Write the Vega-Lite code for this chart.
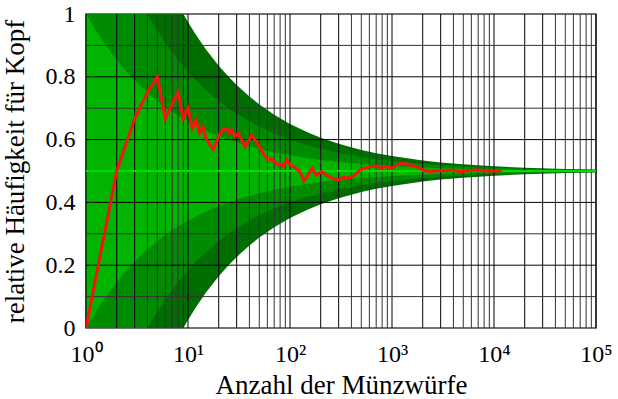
{
  "$schema": "https://vega.github.io/schema/vega-lite/v6.json",
  "width": 510,
  "height": 314,
  "autosize": {"type": "none"},
  "padding": {"left": 86, "top": 14, "right": 22, "bottom": 71},
  "background": "white",
  "config": {
    "view": {"stroke": "#444", "strokeWidth": 1.5},
    "font": "Liberation Serif",
    "axis": {"grid": false, "domain": false, "ticks": false, "labelFont": "Liberation Serif", "titleFont": "Liberation Serif", "labelColor": "#000", "titleColor": "#000", "labelFontSize": 24, "titleFontSize": 27, "titleFontWeight": "normal"}
  },
  "datasets": {
    "bands": [
      {"n": 1, "lo1": 0, "hi1": 1, "lo2": 0, "hi2": 1, "lo3": 0, "hi3": 1},
      {"n": 1.25, "lo1": 0.0528, "hi1": 0.9472, "lo2": 0, "hi2": 1, "lo3": 0, "hi3": 1},
      {"n": 1.5, "lo1": 0.0918, "hi1": 0.9082, "lo2": 0, "hi2": 1, "lo3": 0, "hi3": 1},
      {"n": 2, "lo1": 0.1464, "hi1": 0.8536, "lo2": 0, "hi2": 1, "lo3": 0, "hi3": 1},
      {"n": 2.5, "lo1": 0.1838, "hi1": 0.8162, "lo2": 0, "hi2": 1, "lo3": 0, "hi3": 1},
      {"n": 3, "lo1": 0.2113, "hi1": 0.7887, "lo2": 0, "hi2": 1, "lo3": 0, "hi3": 1},
      {"n": 3.5, "lo1": 0.2327, "hi1": 0.7673, "lo2": 0, "hi2": 1, "lo3": 0, "hi3": 1},
      {"n": 4, "lo1": 0.25, "hi1": 0.75, "lo2": 0, "hi2": 1, "lo3": 0, "hi3": 1},
      {"n": 5, "lo1": 0.2764, "hi1": 0.7236, "lo2": 0.0528, "hi2": 0.9472, "lo3": 0, "hi3": 1},
      {"n": 6, "lo1": 0.2959, "hi1": 0.7041, "lo2": 0.0918, "hi2": 0.9082, "lo3": 0, "hi3": 1},
      {"n": 7, "lo1": 0.311, "hi1": 0.689, "lo2": 0.122, "hi2": 0.878, "lo3": 0, "hi3": 1},
      {"n": 8, "lo1": 0.3232, "hi1": 0.6768, "lo2": 0.1464, "hi2": 0.8536, "lo3": 0, "hi3": 1},
      {"n": 9, "lo1": 0.3333, "hi1": 0.6667, "lo2": 0.1667, "hi2": 0.8333, "lo3": 0, "hi3": 1},
      {"n": 10, "lo1": 0.3419, "hi1": 0.6581, "lo2": 0.1838, "hi2": 0.8162, "lo3": 0.0257, "hi3": 0.9743},
      {"n": 12, "lo1": 0.3557, "hi1": 0.6443, "lo2": 0.2113, "hi2": 0.7887, "lo3": 0.067, "hi3": 0.933},
      {"n": 15, "lo1": 0.3709, "hi1": 0.6291, "lo2": 0.2418, "hi2": 0.7582, "lo3": 0.1127, "hi3": 0.8873},
      {"n": 20, "lo1": 0.3882, "hi1": 0.6118, "lo2": 0.2764, "hi2": 0.7236, "lo3": 0.1646, "hi3": 0.8354},
      {"n": 25, "lo1": 0.4, "hi1": 0.6, "lo2": 0.3, "hi2": 0.7, "lo3": 0.2, "hi3": 0.8},
      {"n": 30, "lo1": 0.4087, "hi1": 0.5913, "lo2": 0.3174, "hi2": 0.6826, "lo3": 0.2261, "hi3": 0.7739},
      {"n": 40, "lo1": 0.4209, "hi1": 0.5791, "lo2": 0.3419, "hi2": 0.6581, "lo3": 0.2628, "hi3": 0.7372},
      {"n": 50, "lo1": 0.4293, "hi1": 0.5707, "lo2": 0.3586, "hi2": 0.6414, "lo3": 0.2879, "hi3": 0.7121},
      {"n": 70, "lo1": 0.4402, "hi1": 0.5598, "lo2": 0.3805, "hi2": 0.6195, "lo3": 0.3207, "hi3": 0.6793},
      {"n": 100, "lo1": 0.45, "hi1": 0.55, "lo2": 0.4, "hi2": 0.6, "lo3": 0.35, "hi3": 0.65},
      {"n": 150, "lo1": 0.4592, "hi1": 0.5408, "lo2": 0.4184, "hi2": 0.5816, "lo3": 0.3775, "hi3": 0.6225},
      {"n": 200, "lo1": 0.4646, "hi1": 0.5354, "lo2": 0.4293, "hi2": 0.5707, "lo3": 0.3939, "hi3": 0.6061},
      {"n": 300, "lo1": 0.4711, "hi1": 0.5289, "lo2": 0.4423, "hi2": 0.5577, "lo3": 0.4134, "hi3": 0.5866},
      {"n": 500, "lo1": 0.4776, "hi1": 0.5224, "lo2": 0.4553, "hi2": 0.5447, "lo3": 0.4329, "hi3": 0.5671},
      {"n": 700, "lo1": 0.4811, "hi1": 0.5189, "lo2": 0.4622, "hi2": 0.5378, "lo3": 0.4433, "hi3": 0.5567},
      {"n": 1000, "lo1": 0.4842, "hi1": 0.5158, "lo2": 0.4684, "hi2": 0.5316, "lo3": 0.4526, "hi3": 0.5474},
      {"n": 2000, "lo1": 0.4888, "hi1": 0.5112, "lo2": 0.4776, "hi2": 0.5224, "lo3": 0.4665, "hi3": 0.5335},
      {"n": 3000, "lo1": 0.4909, "hi1": 0.5091, "lo2": 0.4817, "hi2": 0.5183, "lo3": 0.4726, "hi3": 0.5274},
      {"n": 5000, "lo1": 0.4929, "hi1": 0.5071, "lo2": 0.4859, "hi2": 0.5141, "lo3": 0.4788, "hi3": 0.5212},
      {"n": 10000, "lo1": 0.495, "hi1": 0.505, "lo2": 0.49, "hi2": 0.51, "lo3": 0.485, "hi3": 0.515},
      {"n": 20000, "lo1": 0.4965, "hi1": 0.5035, "lo2": 0.4929, "hi2": 0.5071, "lo3": 0.4894, "hi3": 0.5106},
      {"n": 50000, "lo1": 0.4978, "hi1": 0.5022, "lo2": 0.4955, "hi2": 0.5045, "lo3": 0.4933, "hi3": 0.5067},
      {"n": 100000, "lo1": 0.4984, "hi1": 0.5016, "lo2": 0.4968, "hi2": 0.5032, "lo3": 0.4953, "hi3": 0.5047}
    ],
    "vgridDark": [
      {"n": 1}, {"n": 2}, {"n": 3}, {"n": 10}, {"n": 20}, {"n": 30}, {"n": 100}, {"n": 200}, {"n": 300},
      {"n": 1000}, {"n": 2000}, {"n": 3000}, {"n": 10000}, {"n": 20000}, {"n": 30000}, {"n": 100000}
    ],
    "vgridLight": [
      {"n": 4}, {"n": 5}, {"n": 6}, {"n": 7}, {"n": 8}, {"n": 9},
      {"n": 40}, {"n": 50}, {"n": 60}, {"n": 70}, {"n": 80}, {"n": 90},
      {"n": 400}, {"n": 500}, {"n": 600}, {"n": 700}, {"n": 800}, {"n": 900},
      {"n": 4000}, {"n": 5000}, {"n": 6000}, {"n": 7000}, {"n": 8000}, {"n": 9000},
      {"n": 40000}, {"n": 50000}, {"n": 60000}, {"n": 70000}, {"n": 80000}, {"n": 90000}
    ],
    "hgridDark": [{"f": 0.2}, {"f": 0.4}, {"f": 0.6}, {"f": 0.8}],
    "hgridLight": [{"f": 0.1}, {"f": 0.3}, {"f": 0.5}, {"f": 0.7}, {"f": 0.9}],
    "walk": [
      {"n": 1, "f": 0}, {"n": 2, "f": 0.5}, {"n": 3, "f": 0.667}, {"n": 4, "f": 0.75}, {"n": 5, "f": 0.8},
      {"n": 6, "f": 0.667}, {"n": 7, "f": 0.714}, {"n": 8, "f": 0.75}, {"n": 9, "f": 0.667}, {"n": 10, "f": 0.7},
      {"n": 11, "f": 0.636}, {"n": 12, "f": 0.662}, {"n": 13, "f": 0.62}, {"n": 14, "f": 0.641}, {"n": 15, "f": 0.604},
      {"n": 16.5, "f": 0.583}, {"n": 17.7, "f": 0.569}, {"n": 19, "f": 0.593}, {"n": 20.6, "f": 0.62}, {"n": 22, "f": 0.631},
      {"n": 24, "f": 0.636}, {"n": 25.4, "f": 0.62}, {"n": 26.8, "f": 0.631}, {"n": 29, "f": 0.609}, {"n": 31, "f": 0.62},
      {"n": 34.4, "f": 0.593}, {"n": 36.3, "f": 0.577}, {"n": 39, "f": 0.593}, {"n": 42, "f": 0.615}, {"n": 45.4, "f": 0.599},
      {"n": 49, "f": 0.583}, {"n": 52.8, "f": 0.565}, {"n": 56, "f": 0.55}, {"n": 61, "f": 0.535}, {"n": 65, "f": 0.54},
      {"n": 68.5, "f": 0.532}, {"n": 73, "f": 0.524}, {"n": 77, "f": 0.519}, {"n": 81, "f": 0.522}, {"n": 86, "f": 0.514}, {"n": 93, "f": 0.535}, {"n": 100, "f": 0.519},
      {"n": 106, "f": 0.516}, {"n": 112, "f": 0.512}, {"n": 125, "f": 0.497}, {"n": 137, "f": 0.469}, {"n": 150, "f": 0.487}, {"n": 165, "f": 0.509},
      {"n": 180, "f": 0.487}, {"n": 204, "f": 0.498}, {"n": 228, "f": 0.487}, {"n": 256, "f": 0.477}, {"n": 298, "f": 0.471},
      {"n": 333, "f": 0.48}, {"n": 372, "f": 0.477}, {"n": 416, "f": 0.484}, {"n": 484, "f": 0.503}, {"n": 544, "f": 0.509},
      {"n": 609, "f": 0.514}, {"n": 708, "f": 0.516}, {"n": 762, "f": 0.509}, {"n": 855, "f": 0.514}, {"n": 995, "f": 0.509},
      {"n": 1150, "f": 0.522}, {"n": 1290, "f": 0.525}, {"n": 1500, "f": 0.519}, {"n": 1750, "f": 0.514}, {"n": 2010, "f": 0.503},
      {"n": 2360, "f": 0.498}, {"n": 2720, "f": 0.501}, {"n": 3430, "f": 0.501}, {"n": 3990, "f": 0.503}, {"n": 4660, "f": 0.498},
      {"n": 5380, "f": 0.501}, {"n": 6820, "f": 0.503}, {"n": 8460, "f": 0.5}, {"n": 9800, "f": 0.5}, {"n": 11800, "f": 0.501}
    ]
  },
  "layer": [
    {
      "data": {"name": "bands"},
      "mark": {"type": "area", "color": "#006e00", "opacity": 1},
      "encoding": {
        "x": {"field": "n", "type": "quantitative", "scale": {"type": "log", "domain": [1, 100000], "nice": false},
              "axis": {"values": [1, 10, 100, 1000, 10000, 100000], "labelExpr": "['10⁰','10¹','10²','10³','10⁴','10⁵'][round(log(datum.value)/LN10)]", "labelPadding": 14, "labelFlush": false, "labelOverlap": false, "title": "Anzahl der Münzwürfe", "titleY": 65, "titleBaseline": "alphabetic"}},
        "y": {"field": "lo3", "type": "quantitative", "scale": {"domain": [0, 1], "nice": false},
              "axis": {"values": [0, 0.2, 0.4, 0.6, 0.8, 1], "labelExpr": "datum.value == 0 ? '0' : datum.value == 1 ? '1' : format(datum.value, '.1f')", "labelPadding": 11, "labelFlush": false, "labelOverlap": false, "title": "relative Häufigkeit für Kopf", "titleX": -63, "titleY": 157, "titleBaseline": "alphabetic"}},
        "y2": {"field": "hi3"}
      }
    },
    {
      "data": {"name": "bands"},
      "mark": {"type": "area", "color": "#008c00", "opacity": 1},
      "encoding": {
        "x": {"field": "n", "type": "quantitative"},
        "y": {"field": "lo2", "type": "quantitative"},
        "y2": {"field": "hi2"}
      }
    },
    {
      "data": {"name": "bands"},
      "mark": {"type": "area", "color": "#00b400", "opacity": 1},
      "encoding": {
        "x": {"field": "n", "type": "quantitative"},
        "y": {"field": "lo1", "type": "quantitative"},
        "y2": {"field": "hi1"}
      }
    },
    {
      "data": {"name": "vgridLight"},
      "mark": {"type": "rule", "color": "#333", "strokeWidth": 1},
      "encoding": {"x": {"field": "n", "type": "quantitative"}}
    },
    {
      "data": {"name": "vgridDark"},
      "mark": {"type": "rule", "color": "#000", "strokeWidth": 1},
      "encoding": {"x": {"field": "n", "type": "quantitative"}}
    },
    {
      "data": {"name": "hgridLight"},
      "mark": {"type": "rule", "color": "#333", "strokeWidth": 1},
      "encoding": {"y": {"field": "f", "type": "quantitative"}}
    },
    {
      "data": {"name": "hgridDark"},
      "mark": {"type": "rule", "color": "#000", "strokeWidth": 1},
      "encoding": {"y": {"field": "f", "type": "quantitative"}}
    },
    {
      "data": {"values": [{"f": 0.5}]},
      "mark": {"type": "rule", "color": "#00dd00", "strokeWidth": 2},
      "encoding": {"y": {"field": "f", "type": "quantitative"}}
    },
    {
      "data": {"name": "walk"},
      "mark": {"type": "line", "color": "#ff1010", "strokeWidth": 3, "strokeJoin": "miter", "clip": true},
      "encoding": {
        "x": {"field": "n", "type": "quantitative"},
        "y": {"field": "f", "type": "quantitative"}
      }
    }
  ]
}
